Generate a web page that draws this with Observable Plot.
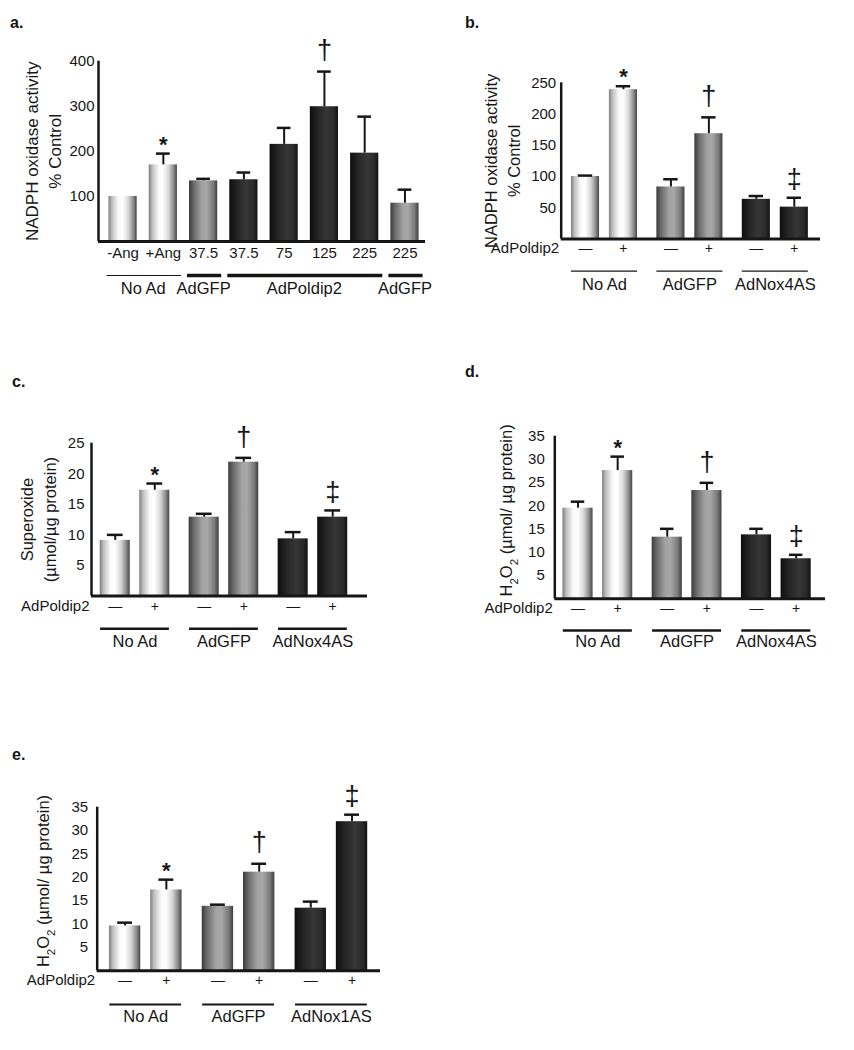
<!DOCTYPE html>
<html><head><meta charset="utf-8">
<script src="https://cdn.jsdelivr.net/npm/d3@7"></script>
<script src="https://cdn.jsdelivr.net/npm/@observablehq/plot@0.6"></script>
<style>
body{margin:0;background:#fff;}
#page{position:relative;width:854px;height:1050px;overflow:hidden;background:#fff;}
</style></head><body>
<svg width="0" height="0" style="position:absolute">
<defs>
<linearGradient id="gLight" x1="0" x2="1" y1="0" y2="0">
<stop offset="0" stop-color="#7d7d7d"/><stop offset="0.12" stop-color="#bdbdbd"/><stop offset="0.35" stop-color="#fafafa"/><stop offset="0.5" stop-color="#ffffff"/><stop offset="0.7" stop-color="#d8d8d8"/><stop offset="0.88" stop-color="#8c8c8c"/><stop offset="1" stop-color="#454545"/>
</linearGradient>
<linearGradient id="gMid" x1="0" x2="1" y1="0" y2="0">
<stop offset="0" stop-color="#3a3a3a"/><stop offset="0.15" stop-color="#666"/><stop offset="0.45" stop-color="#a2a2a2"/><stop offset="0.62" stop-color="#a8a8a8"/><stop offset="0.86" stop-color="#7a7a7a"/><stop offset="1" stop-color="#3e3e3e"/>
</linearGradient>
<linearGradient id="gDark" x1="0" x2="1" y1="0" y2="0">
<stop offset="0" stop-color="#0e0e0e"/><stop offset="0.3" stop-color="#262626"/><stop offset="0.6" stop-color="#363636"/><stop offset="0.85" stop-color="#2a2a2a"/><stop offset="1" stop-color="#121212"/>
</linearGradient>
</defs></svg>
<div id="page"></div>
<script>
// ---------- DATA ----------
// Panel a
const aCategories = ["-Ang", "+Ang", "37.5", "37.5", "75", "125", "225", "225"];
const aGroups = ["No Ad", "No Ad", "AdGFP", "AdPoldip2", "AdPoldip2", "AdPoldip2", "AdPoldip2", "AdGFP"];
const aValues = [100, 170, 134.5, 137, 215.5, 299, 196, 85];
const aErrors = [0, 25, 4.5, 16, 36.5, 78, 81, 30];
const aSig = ["", "*", "", "", "", "†", "", ""];
const aTicks = [100, 200, 300, 400];

// Shared for b–e
const treatment = ["—", "+"];
const rowLabel = "AdPoldip2";

// Panel b
const bGroups = ["No Ad", "AdGFP", "AdNox4AS"];
const bValues = [100, 239, 83.3, 168.5, 63.5, 51];
const bErrors = [1.5, 5.5, 12.3, 26.2, 5.3, 15];
const bSig = ["", "*", "", "†", "", "‡"];
const bTicks = [50, 100, 150, 200, 250];

// Panel c
const cGroups = ["No Ad", "AdGFP", "AdNox4AS"];
const cValues = [9.1, 17.3, 12.9, 21.9, 9.35, 12.9];
const cErrors = [0.9, 1.1, 0.55, 0.7, 1.1, 1.1];
const cSig = ["", "*", "", "†", "", "‡"];
const cTicks = [5, 10, 15, 20, 25];

// Panel d
const dGroups = ["No Ad", "AdGFP", "AdNox4AS"];
const dValues = [19.5, 27.6, 13.25, 23.3, 13.75, 8.6];
const dErrors = [1.4, 3.0, 1.8, 1.65, 1.3, 0.85];
const dSig = ["", "*", "", "†", "", "‡"];
const dTicks = [5, 10, 15, 20, 25, 30, 35];

// Panel e
const eGroups = ["No Ad", "AdGFP", "AdNox1AS"];
const eValues = [9.6, 17.3, 13.8, 21.1, 13.4, 31.9];
const eErrors = [0.7, 2.2, 0.35, 1.8, 1.4, 1.5];
const eSig = ["", "*", "", "†", "", "‡"];
const eTicks = [5, 10, 15, 20, 25, 30, 35];

const labelA = "NADPH oxidase activity\n% Control";
const labelC = "Superoxide\n(µmol/µg protein)";
const labelH2O2 = "H2O2 (µmol/ µg protein)";

// ---------- RENDER ----------
const FONT = '"Liberation Sans", Arial, Helvetica, sans-serif';
const INK = "#161616";
const TONE = {light: "url(#gLight)", mid: "url(#gMid)", dark: "url(#gDark)"};
const toneOf = g => g === "No Ad" ? "light" : g === "AdGFP" ? "mid" : "dark";
const GAP = 2.25;
const page = document.getElementById("page");

function buildPanel(cfg) {
  const items = cfg.items;
  const withErr = items.filter(d => d.err > 0);
  const sym = s => withErr.filter(d => d.sig === s);
  const marks = [
    Plot.rectY(items, {x1: d => d.x - cfg.barHalf, x2: d => d.x + cfg.barHalf, y1: () => 0, y2: d => d.value, fill: d => TONE[d.tone]}),
    Plot.ruleX(withErr, {x: "x", y1: "value", y2: d => d.value + d.err, stroke: INK, strokeWidth: 2}),
    Plot.ruleY(withErr, {y: d => d.value + d.err, x1: d => d.x - cfg.capHalf, x2: d => d.x + cfg.capHalf, stroke: INK, strokeWidth: 2.5}),
    Plot.ruleY([0], {stroke: INK, strokeWidth: 3}),
    Plot.ruleX([cfg.xDomain[0]], {y1: 0, y2: cfg.yDomain[1], stroke: INK, strokeWidth: 2.5}),
    Plot.axisY({ticks: cfg.ticks, tickSize: 0, tickPadding: cfg.tickPadding, fontSize: 15, label: null, tickFormat: d => String(d)}),
    Plot.text([cfg.yLabel], {frameAnchor: "left", rotate: -90, dx: cfg.yLabelDx, dy: cfg.yLabelDy || 0, fontSize: cfg.yLabelSize, lineHeight: cfg.yLabelLH || 1, textAnchor: "middle"}),
    Plot.text(sym("*"), {x: "x", y: d => d.value + d.err, text: "sig", fontSize: 22, fontWeight: "bold", dy: -9}),
    Plot.text(sym("†"), {x: "x", y: d => d.value + d.err, text: "sig", fontSize: 27, dy: -21}),
    Plot.text(sym("‡"), {x: "x", y: d => d.value + d.err, text: "sig", fontSize: 27, dy: -18}),
    Plot.text(items, {x: "x", text: "cat", frameAnchor: "bottom", dy: cfg.rowDy, fontSize: cfg.catSize || 15}),
    Plot.ruleY(cfg.groups, {x1: "x1", x2: "x2", y: () => 0, dy: cfg.lineDy, stroke: INK, strokeWidth: "w"}),
    Plot.text(cfg.groups, {x: "xc", text: "name", frameAnchor: "bottom", dy: cfg.labelDy, fontSize: 16.5})
  ];
  if (cfg.rowLabel) marks.push(Plot.text([cfg.rowLabel], {frameAnchor: "bottom-left", textAnchor: "end", dx: -2, dy: cfg.rowDy, fontSize: 15}));
  const svg = Plot.plot({
    width: cfg.width, height: cfg.height,
    marginTop: cfg.m[0], marginRight: cfg.m[1], marginBottom: cfg.m[2], marginLeft: cfg.m[3],
    x: {domain: cfg.xDomain, axis: null},
    y: {domain: cfg.yDomain, axis: null},
    color: {type: "identity"},
    style: {fontFamily: FONT, fontSize: "15px", color: INK, background: "transparent", overflow: "visible"},
    marks
  });
  svg.style.position = "absolute";
  svg.style.left = cfg.left + "px";
  svg.style.top = cfg.top + "px";
  svg.style.maxWidth = "none";
  // H2O2 subscripts
  svg.querySelectorAll("text").forEach(t => {
    if (t.textContent.startsWith("H2O2")) {
      const rest = t.textContent.slice(4);
      t.textContent = "";
      const parts = [["H", false], ["2", true], ["O", false], ["2", true], [rest, false]];
      for (const [s, sub] of parts) {
        const ts = document.createElementNS("http://www.w3.org/2000/svg", "tspan");
        ts.textContent = s;
        if (sub) { ts.setAttribute("baseline-shift", "sub"); ts.setAttribute("font-size", "70%"); }
        t.appendChild(ts);
      }
    }
  });
  page.appendChild(svg);
}

// Panel a items & groups
const aItems = aCategories.map((cat, i) => ({x: i, cat, tone: toneOf(aGroups[i]), value: aValues[i], err: aErrors[i], sig: aSig[i]}));
const aRuns = [];
aGroups.forEach((g, i) => {
  const last = aRuns[aRuns.length - 1];
  if (last && last.name === g && last.end === i - 1) last.end = i;
  else aRuns.push({name: g, start: i, end: i});
});
const aGroupMarks = aRuns.map((r, k) => ({name: r.name, x1: r.start - 0.4, x2: r.end + 0.45, xc: (r.start + r.end) / 2, w: k === 0 ? 1.2 : 3.5}));

buildPanel({left: 0, top: 0, width: 440, height: 310, m: [60.7, 15, 69, 98],
  xDomain: [-0.61, 7.51], yDomain: [0, 400], ticks: aTicks, tickPadding: 4,
  items: aItems, groups: aGroupMarks, barHalf: 0.35, capHalf: 0.17,
  yLabel: labelA, yLabelDx: -56.5, yLabelSize: 17, yLabelLH: 1.38,
  rowDy: 16, lineDy: 34, labelDy: 52});

function pairedItems(groups, values, errors, sig) {
  const out = [];
  groups.forEach((g, gi) => treatment.forEach((t, si) => {
    const i = gi * 2 + si;
    out.push({x: gi * GAP + si, cat: t, tone: toneOf(g), value: values[i], err: errors[i], sig: sig[i]});
  }));
  return out;
}
function pairedGroups(groups, w) {
  return groups.map((g, gi) => ({name: g, x1: gi * GAP + 0.5 - 0.87, x2: gi * GAP + 0.5 + 0.87, xc: gi * GAP + 0.5, w}));
}

buildPanel({left: 430, top: 0, width: 424, height: 310, m: [82.3, 34, 71.5, 130.7],
  xDomain: [-0.64, 6.19], yDomain: [0, 250], ticks: bTicks, tickPadding: 5,
  items: pairedItems(bGroups, bValues, bErrors, bSig), groups: pairedGroups(bGroups, 1.3),
  barHalf: 0.37, capHalf: 0.19, catSize: 14,
  yLabel: labelA, yLabelDx: -60.3, yLabelSize: 16.5, yLabelLH: 1.38,
  rowLabel, rowDy: 13.8, lineDy: 32.2, labelDy: 50.5});

buildPanel({left: 0, top: 330, width: 420, height: 340, m: [112.7, 53, 74.5, 91],
  xDomain: [-0.6, 6.38], yDomain: [0, 25], ticks: cTicks, tickPadding: 7,
  items: pairedItems(cGroups, cValues, cErrors, cSig), groups: pairedGroups(cGroups, 2.5),
  barHalf: 0.38, capHalf: 0.2, catSize: 14,
  yLabel: labelC, yLabelDx: -54.3, yLabelSize: 16.5, yLabelLH: 1.41,
  rowLabel, rowDy: 15.2, lineDy: 32.8, labelDy: 50.5});

buildPanel({left: 420, top: 330, width: 434, height: 340, m: [105.7, 29, 71.8, 134.3],
  xDomain: [-0.585, 6.24], yDomain: [0, 35], ticks: dTicks, tickPadding: 10,
  items: pairedItems(dGroups, dValues, dErrors, dSig), groups: pairedGroups(dGroups, 2.5),
  barHalf: 0.38, capHalf: 0.17, catSize: 14,
  yLabel: labelH2O2, yLabelDx: -47.6, yLabelDy: -7, yLabelSize: 16.5,
  rowLabel, rowDy: 14.1, lineDy: 31.8, labelDy: 48.5});

buildPanel({left: 0, top: 700, width: 420, height: 350, m: [106.7, 40, 79.7, 96.7],
  xDomain: [-0.676, 6.19], yDomain: [0, 35], ticks: eTicks, tickPadding: 9,
  items: pairedItems(eGroups, eValues, eErrors, eSig), groups: pairedGroups(eGroups, 2),
  barHalf: 0.38, capHalf: 0.18, catSize: 14,
  yLabel: labelH2O2, yLabelDx: -53.4, yLabelDy: -8, yLabelSize: 16.5,
  rowLabel, rowDy: 14, lineDy: 33.7, labelDy: 51.4});

// Panel letters
const letters = [["a.", 10, 28], ["b.", 465, 28], ["c.", 12, 387], ["d.", 465, 377], ["e.", 12, 760]];
const ov = d3.select(page).append("svg").attr("width", 854).attr("height", 1050)
  .style("position", "absolute").style("left", 0).style("top", 0).style("pointer-events", "none");
ov.selectAll("text").data(letters).join("text")
  .attr("x", d => d[1]).attr("y", d => d[2]).text(d => d[0])
  .attr("font-family", FONT).attr("font-weight", "bold").attr("font-size", 16).attr("fill", INK);
</script>
</body></html>
